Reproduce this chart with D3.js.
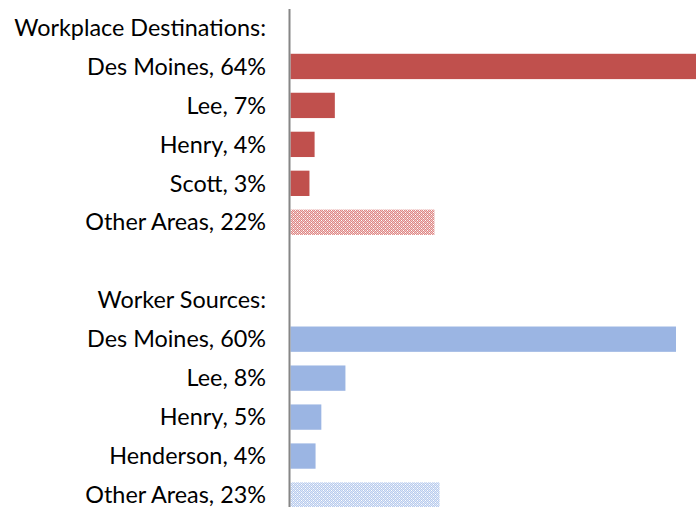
<!DOCTYPE html>
<html>
<head>
<meta charset="utf-8">
<style>
  body { margin: 0; background: #fff; }
  svg { display: block; font-family: Lato, "Open Sans", sans-serif; }
</style>
</head>
<body>
<div id="container"></div>
<script src="https://cdn.jsdelivr.net/npm/d3@7"></script>
<script>
// rows top to bottom; "" = spacer row
var rowLabels = ["Workplace Destinations:", "Des Moines, 64%", "Lee, 7%", "Henry, 4%", "Scott, 3%", "Other Areas, 22%",
                 "", "Worker Sources:", "Des Moines, 60%", "Lee, 8%", "Henry, 5%", "Henderson, 4%", "Other Areas, 23%"];
// bar lengths (null = header / spacer)
var rowValues = [null, 64, 6.9, 3.75, 2.95, 22.4, null, null, 60, 8.55, 4.8, 3.9, 23.2];
// group per row: dest / src, and whether it's the hatched "other" bar
var rowGroup = [null, "dest", "dest", "dest", "dest", "dest", null, null, "src", "src", "src", "src", "src"];
var rowOther = [false, false, false, false, false, true, false, false, false, false, false, false, true];

var width = 696, height = 507;

var svg = d3.select("#container")
  .append("svg")
    .attr("width", width)
    .attr("height", height);

// checker patterns for "Other Areas"
var defs = svg.append("defs");
function checker(id, dark, light) {
  var p = defs.append("pattern")
    .attr("id", id)
    .attr("patternUnits", "userSpaceOnUse")
    .attr("width", 4).attr("height", 4);
  p.append("rect").attr("width", 4).attr("height", 4).attr("fill", light);
  [[0,0],[2,0],[1,1],[3,1],[0,2],[2,2],[1,3],[3,3]].forEach(function(c) {
    p.append("rect").attr("x", c[0]).attr("y", c[1]).attr("width", 1).attr("height", 1).attr("fill", dark);
  });
  p.append("rect").attr("x", 1).attr("y", 0).attr("width", 1).attr("height", 1).attr("fill", "#fff");
  p.append("rect").attr("x", 3).attr("y", 2).attr("width", 1).attr("height", 1).attr("fill", "#fff");
}
checker("hatchRed", "#dc8886", "#f3c8c7");
checker("hatchBlue", "#b8cbed", "#dfe8f8");

var color = { dest: "#c0504d", src: "#9bb5e3" };
var hatch = { dest: "url(#hatchRed)", src: "url(#hatchBlue)" };

var y = d3.scaleBand()
  .domain(d3.range(rowLabels.length))
  .range([8, 514.5])
  .paddingInner(0.35)
  .paddingOuter(0.175);

var x = d3.scaleLinear()
  .domain([0, 60])
  .range([290.5, 676]);

// bars
svg.append("g")
  .selectAll("rect")
  .data(d3.range(rowLabels.length).filter(function(i) { return rowValues[i] != null; }))
  .enter()
  .append("rect")
    .attr("x", x(0))
    .attr("y", function(i) { return y(i); })
    .attr("width", function(i) { return x(rowValues[i]) - x(0); })
    .attr("height", y.bandwidth())
    .attr("fill", function(i) { return rowOther[i] ? hatch[rowGroup[i]] : color[rowGroup[i]]; });

// vertical axis line
svg.append("line")
  .attr("x1", 289.5).attr("x2", 289.5)
  .attr("y1", 9).attr("y2", height)
  .attr("stroke", "#868686")
  .attr("stroke-width", 2);

// labels
var labels = svg.append("g")
  .selectAll("text")
  .data(d3.range(rowLabels.length))
  .enter()
  .append("text")
    .attr("x", 266)
    .attr("y", function(i) { return y(i) + y.bandwidth() / 2; })
    .attr("dy", "0.35em")
    .attr("text-anchor", "end")
    .style("font-size", "20px")
    .style("fill", "#000")
    .text(function(i) { return rowLabels[i]; });

// fit font size so "Des Moines, 64%" is ~179px wide like the original
var probe = labels.filter(function(i) { return i === 1; }).node();
var w = probe.getComputedTextLength();
var fs = 20 * 179 / w;
labels.style("font-size", fs + "px");
</script>
</body>
</html>
